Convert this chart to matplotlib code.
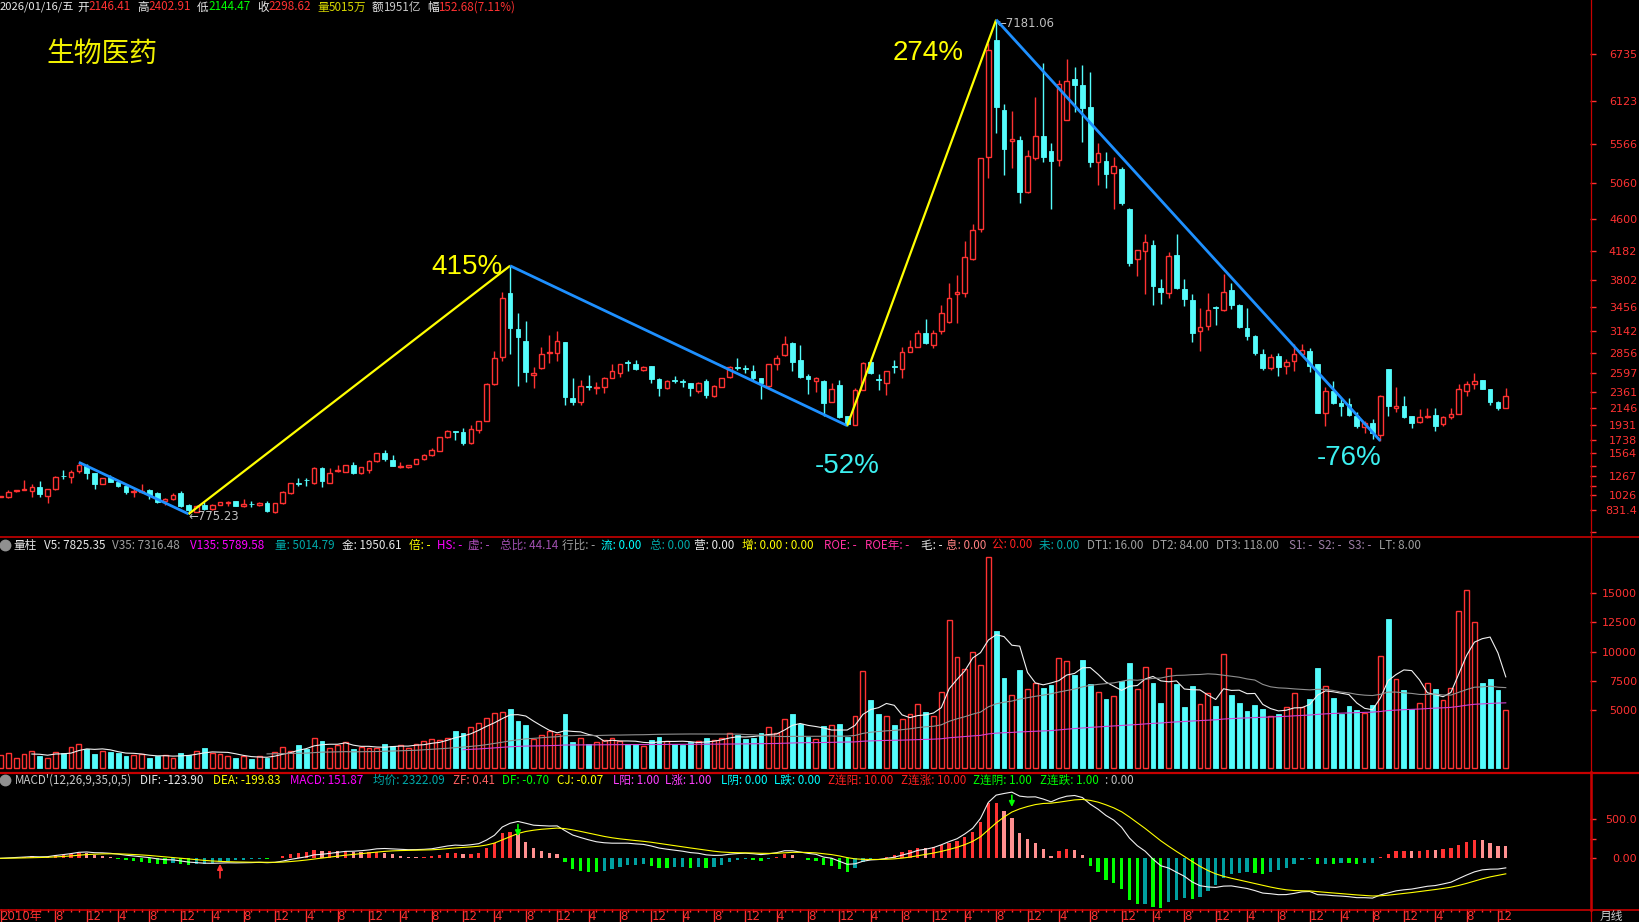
import matplotlib
matplotlib.use('Agg')
import matplotlib.pyplot as plt
import numpy as np
import pandas as pd
from matplotlib.lines import Line2D

plt.rcParams['font.family'] = ['Noto Sans CJK SC', 'DejaVu Sans']

# ---------------- data (monthly, 2010-01 .. 2026-01) ----------------
opens = [995, 999, 1070, 1085, 1068, 1120, 1008, 1094, 1272, 1258,
         1336, 1397, 1302, 1163, 1258, 1185, 1142, 1060, 1060, 1086,
         1051, 939, 965, 1043, 891, 805, 887, 835, 891, 913,
         939, 878, 906, 891, 922, 805, 913, 1051, 1176, 1215,
         1172, 1366, 1181, 1336, 1323, 1410, 1302, 1345, 1457, 1570,
         1474, 1388, 1388, 1423, 1483, 1540, 1595, 1777, 1850, 1833,
         1690, 1863, 1984, 2459, 2805, 3643, 3168, 3017, 2576, 2662,
         2856, 2865, 3000, 2282, 2230, 2438, 2403, 2425, 2542, 2606,
         2740, 2714, 2641, 2693, 2524, 2403, 2511, 2490, 2468, 2373,
         2498, 2304, 2425, 2546, 2680, 2662, 2628, 2542, 2434, 2723,
         2835, 2986, 2770, 2563, 2503, 2498, 2230, 2446, 2045, 1928,
         2382, 2740, 2515, 2477, 2690, 2650, 2878, 2943, 3125, 2965,
         3151, 3260, 3621, 3643, 4075, 4468, 5406, 6918, 6010, 5614,
         5622, 4946, 5390, 5674, 5476, 5364, 5881, 6411, 6338, 6053,
         5334, 5355, 5191, 5247, 4730, 4079, 4183, 4256, 3704, 3640,
         4127, 3687, 3545, 3144, 3209, 3455, 3424, 3674, 3480, 3179,
         3079, 2855, 2670, 2825, 2692, 2761, 2855, 2890, 2713, 2080,
         2368, 2217, 2196, 2049, 1898, 1959, 1799, 2648, 2153, 2174,
         2045, 1963, 2030, 2058, 1937, 2028, 2067, 2373, 2454, 2510,
         2394, 2230, 2146.41]
highs = [1008, 1086, 1090, 1215, 1159, 1202, 1100, 1267, 1345, 1345,
         1445, 1423, 1310, 1245, 1280, 1215, 1159, 1107, 1163, 1103,
         1060, 978, 1043, 1073, 904, 891, 935, 904, 930, 939,
         948, 965, 948, 935, 948, 913, 1068, 1180, 1245, 1241,
         1379, 1379, 1366, 1410, 1410, 1449, 1390, 1474, 1570, 1604,
         1535, 1453, 1414, 1487, 1552, 1630, 1777, 1863, 1852, 1885,
         1928, 1984, 2468, 2887, 3656, 3992, 3384, 3276, 2684, 2943,
         3094, 3146, 3005, 2533, 2511, 2576, 2490, 2555, 2714, 2714,
         2770, 2770, 2693, 2693, 2542, 2511, 2563, 2520, 2477, 2490,
         2520, 2447, 2542, 2693, 2792, 2706, 2706, 2542, 2714, 2835,
         3081, 3008, 2965, 2585, 2554, 2511, 2468, 2511, 2050, 2403,
         2749, 2757, 2585, 2628, 2770, 2943, 3030, 3159, 3297, 3159,
         3483, 3772, 3872, 4313, 4529, 5393, 6874, 7181.06, 6088, 6002,
         5674, 5497, 6183, 6618, 5584, 6398, 6670, 6562, 6596, 6506,
         5584, 5471, 5398, 5269, 4735, 4195, 4407, 4321, 3825, 4170,
         4398, 3816, 3622, 3446, 3640, 3467, 3890, 3773, 3493, 3450,
         3092, 2907, 2855, 2864, 2778, 2972, 2972, 2920, 2720, 2416,
         2498, 2273, 2273, 2101, 1980, 2002, 2317, 2650, 2416, 2304,
         2045, 2135, 2153, 2144, 2045, 2144, 2459, 2498, 2605, 2515,
         2398, 2239, 2402.91]
lows = [990, 978, 1066, 1080, 999, 999, 921, 1085, 1224, 1172,
        1302, 1232, 1103, 1160, 1190, 1129, 1034, 999, 1050, 965,
        913, 892, 956, 861, 775.23, 800, 830, 826, 887, 878,
        875, 870, 870, 878, 805, 790, 910, 1034, 1138, 1138,
        1170, 1129, 1180, 1319, 1320, 1293, 1293, 1310, 1449, 1466,
        1400, 1366, 1366, 1420, 1474, 1526, 1595, 1755, 1738, 1673,
        1686, 1829, 1980, 2447, 2762, 2848, 2440, 2490, 2403, 2650,
        2736, 2762, 2187, 2187, 2187, 2382, 2326, 2347, 2533, 2555,
        2632, 2641, 2632, 2477, 2308, 2395, 2468, 2425, 2308, 2339,
        2274, 2295, 2416, 2533, 2641, 2598, 2511, 2261, 2425, 2641,
        2822, 2632, 2542, 2330, 2360, 2045, 2230, 2014, 1920, 1925,
        2380, 2585, 2382, 2317, 2598, 2533, 2870, 2943, 2978, 2921,
        3107, 3254, 3254, 3591, 4066, 4425, 5125, 5708, 5174, 5256,
        4803, 4940, 5364, 5334, 4722, 5290, 5875, 5989, 5592, 5269,
        5040, 4997, 4730, 4773, 3993, 3860, 3631, 3480, 3502, 3579,
        3696, 3472, 3006, 2890, 3166, 3222, 3407, 3437, 3179, 3028,
        2834, 2640, 2640, 2567, 2584, 2631, 2850, 2610, 2080, 1920,
        2196, 2049, 2045, 1886, 1830, 1743, 1723, 2049, 2101, 2015,
        1894, 1960, 2025, 1855, 1920, 2002, 2065, 2304, 2394, 2390,
        2187, 2123, 2144.47]
closes = [1002, 1064, 1085, 1102, 1120, 1034, 1094, 1258, 1262, 1319,
          1405, 1310, 1163, 1241, 1194, 1138, 1064, 1077, 1070, 1021,
          935, 965, 1021, 878, 826, 878, 835, 887, 926, 935,
          878, 904, 900, 922, 818, 913, 1060, 1172, 1168, 1210,
          1366, 1207, 1310, 1340, 1405, 1310, 1388, 1457, 1561, 1483,
          1401, 1392, 1414, 1483, 1535, 1604, 1768, 1850, 1838, 1690,
          1872, 1984, 2459, 2792, 3570, 3190, 3073, 2619, 2598, 2848,
          2878, 3017, 2295, 2230, 2438, 2425, 2425, 2542, 2628, 2714,
          2730, 2654, 2684, 2520, 2412, 2503, 2503, 2485, 2403, 2477,
          2317, 2434, 2533, 2684, 2670, 2650, 2533, 2468, 2714, 2800,
          2978, 2749, 2554, 2520, 2542, 2217, 2395, 2036, 1941, 2382,
          2727, 2606, 2511, 2628, 2680, 2878, 2943, 3125, 2986, 3125,
          3384, 3570, 3656, 4110, 4455, 5384, 6788, 6045, 5506, 5635,
          4946, 5420, 5674, 5407, 5347, 6346, 6390, 6333, 6032, 5334,
          5454, 5183, 5290, 4803, 4028, 4191, 4295, 3726, 3653, 4114,
          3704, 3566, 3122, 3192, 3416, 3445, 3653, 3480, 3200, 3088,
          2864, 2670, 2812, 2683, 2748, 2855, 2898, 2692, 2088, 2368,
          2217, 2174, 2058, 1916, 1959, 1821, 2308, 2179, 2174, 2036,
          1959, 2028, 2038, 1916, 2036, 2071, 2390, 2459, 2498, 2394,
          2230, 2145.94, 2298.62]
volumes = [1100, 1300, 900, 1200, 1500, 1000, 900, 1400, 1300, 1800,
           2100, 1600, 1200, 1500, 1400, 1300, 1000, 1100, 1200, 900,
           1000, 1100, 900, 1300, 1100, 1500, 1700, 1300, 1200, 1000,
           900, 1000, 800, 1000, 900, 1400, 1800, 1500, 2000, 1600,
           2600, 2300, 1700, 2000, 2200, 1600, 1800, 1700, 1700, 2100,
           1900, 2000, 1700, 2100, 2300, 2500, 2400, 2600, 3200, 3000,
           3500, 3900, 4300, 4700, 4800, 5100, 4000, 3700, 2500, 2800,
           3200, 2900, 4600, 2200, 2600, 2100, 2200, 2400, 2600, 2300,
           2100, 2100, 1900, 2400, 2700, 2300, 2100, 2000, 2200, 2300,
           2600, 2400, 2600, 3000, 2800, 2500, 2600, 3000, 3500, 3000,
           4200, 4600, 3800, 2700, 2500, 3600, 3700, 3800, 2700, 4500,
           8300, 5800, 4600, 4500, 3700, 4200, 4600, 5500, 4800, 4500,
           6500, 12700, 9500, 8500, 10000, 8800, 18100, 11800, 7700, 6300,
           8400, 6800, 7300, 6900, 7100, 9400, 9200, 8000, 9300, 7200,
           6500, 5900, 6200, 7500, 9000, 6800, 8700, 7300, 5600, 8600,
           7200, 5200, 7000, 5500, 6400, 5300, 9800, 6300, 5600, 4900,
           5400, 5100, 4500, 4600, 5200, 6400, 5200, 5900, 8600, 7000,
           6000, 4600, 5300, 5000, 4700, 5400, 9600, 12800, 7600, 6700,
           5100, 5600, 7300, 6800, 5800, 6900, 13500, 15300, 12500, 7300,
           7600, 6700, 5015]

price_ticks = [6735, 6123, 5566, 5060, 4600, 4182, 3802, 3456, 3142, 2856,
               2597, 2361, 2146, 1931, 1738, 1564, 1267, 1026, 831.4]
price_minor = [1402, 1135, 536]
vol_ticks = [5000, 7500, 10000, 12500, 15000]
macd_ticks = [0, 500]
pivot_idx = [10, 24, 65, 108, 127, 176]
pivot_kind = ['H', 'L', 'H', 'L', 'H', 'L']
signal_up = [28]
signal_down = [66, 129]
title = '生物医药'

# ---------------- styling ----------------
W, H = 1639, 922
RED = '#FF3232'
CYAN = '#54FCFC'
GREEN = '#00FF00'
YEL = '#FFFF00'
WHITE = '#E8E8E8'
GRAY = '#A0A0A0'
MAG = '#FF00FF'
TEAL = '#00A8A8'
SEP = '#C80000'
STEP = 7.84  # px per month
TICKFONT = ['DejaVu Sans', 'Noto Sans CJK SC']

O = np.array(opens, float); Hh = np.array(highs, float)
L = np.array(lows, float); C = np.array(closes, float)
V = np.array(volumes, float)
n = len(C)
x = np.arange(n)
up = C >= O

fig = plt.figure(figsize=(W / 100, H / 100), dpi=100, facecolor='black')


def rect(x0, y0, x1, y1):
    return [x0 / W, 1 - y1 / H, (x1 - x0) / W, (y1 - y0) / H]


xlim = (-0.5 / STEP, (1590 - 0.5) / STEP)
ax_p = fig.add_axes(rect(0, 0, 1590, 536))
ax_v = fig.add_axes(rect(0, 537, 1590, 772))
ax_m = fig.add_axes(rect(0, 773, 1590, 909))
for ax in (ax_p, ax_v, ax_m):
    ax.set_facecolor('black')
    for s in ax.spines.values():
        s.set_visible(False)
    ax.set_xlim(*xlim)
    ax.yaxis.tick_right()
    ax.tick_params(axis='y', which='both', direction='out', colors=RED,
                   length=4, width=1, labelsize=8, pad=30,
                   labelfontfamily=TICKFONT)
    ax.tick_params(axis='x', which='both', bottom=False, labelbottom=False)

# ---------------- price panel ----------------
ax_p.set_ylim(490, 7436)
body_lo = np.minimum(O, C)
body_hi = np.maximum(O, C)
bh = np.maximum(body_hi - body_lo, 9)
dn = ~up
ax_p.vlines(x[dn], L[dn], Hh[dn], color=CYAN, lw=1)
ax_p.bar(x[dn], bh[dn], bottom=body_lo[dn], width=0.6, color=CYAN,
         edgecolor=CYAN, lw=0.6)
ax_p.vlines(x[up], body_hi[up], Hh[up], color=RED, lw=1)
ax_p.vlines(x[up], L[up], body_lo[up], color=RED, lw=1)
ax_p.bar(x[up], bh[up], bottom=body_lo[up], width=0.6, facecolor='black',
         edgecolor=RED, lw=1)
ax_p.set_yticks(price_ticks)
ax_p.set_yticklabels([('%g' % t) if t < 1000 else '%d' % t for t in price_ticks])
ax_p.set_yticks(price_minor, minor=True)
for lab in ax_p.get_yticklabels():
    lab.set_ha('right')

# trend lines and percentages
pv = [Hh[i] if k == 'H' else L[i] for i, k in zip(pivot_idx, pivot_kind)]
for j in range(len(pivot_idx) - 1):
    rising = pv[j + 1] > pv[j]
    ax_p.plot([pivot_idx[j], pivot_idx[j + 1]], [pv[j], pv[j + 1]],
              color=YEL if rising else '#1E90FF', lw=1.6 if rising else 2.0,
              solid_capstyle='butt', zorder=5)
pct_offsets = {2: (-43, -1), 3: (0, -40), 4: (-68, -33), 5: (-31, -17)}
for j, (dx, dy) in pct_offsets.items():
    pct = (pv[j] / pv[j - 1] - 1) * 100
    ax_p.annotate('%.0f%%' % pct, (pivot_idx[j], pv[j]), xytext=(dx, dy),
                  textcoords='offset pixels', ha='center', va='center',
                  color=YEL if pct > 0 else '#3CF0F0', fontsize=20,
                  family='Liberation Sans', zorder=6)
ax_p.annotate('←%.2f' % L[pivot_idx[1]], (pivot_idx[1], L[pivot_idx[1]]),
              xytext=(0, -3), textcoords='offset pixels', ha='left',
              va='center', color='#C0C0C0', fontsize=8.4, family='DejaVu Sans')
ax_p.annotate('←%.2f' % Hh[pivot_idx[4]], (pivot_idx[4], Hh[pivot_idx[4]]),
              xytext=(0, -4), textcoords='offset pixels', ha='left',
              va='center', color='#C0C0C0', fontsize=8.4, family='DejaVu Sans')
fig.text(46 / W, 1 - 54 / H, title, color='#F0F000', fontsize=20,
         va='center', ha='left')

# ---------------- volume panel ----------------
ax_v.set_ylim(-343, 19828)
vu = up
ax_v.bar(x[~vu], V[~vu], width=0.62, color=CYAN, edgecolor=CYAN, lw=0.6)
ax_v.bar(x[vu], V[vu], width=0.62, facecolor='black', edgecolor=RED, lw=1)
vs = pd.Series(V)
ax_v.plot(x, vs.rolling(5).mean(), color='#F0F0F0', lw=0.8)
ax_v.plot(x, vs.rolling(35).mean(), color='#909090', lw=0.8)
ax_v.plot(x, vs.rolling(135, min_periods=60).mean(), color='#D040D0', lw=0.8)
ax_v.set_yticks(vol_ticks)
ax_v.set_yticklabels(['%d' % t for t in vol_ticks])
for lab in ax_v.get_yticklabels():
    lab.set_ha('right')

# ---------------- MACD panel ----------------
cs = pd.Series(C)
dif = cs.ewm(span=12, adjust=False).mean() - cs.ewm(span=26, adjust=False).mean()
dea = dif.ewm(span=9, adjust=False).mean()
macd = 2 * (dif - dea)
mv = macd.values
prev = np.r_[0, mv[:-1]]
cols = []
for m, p in zip(mv, prev):
    if m >= 0:
        cols.append(RED if m >= p else '#FF9090')
    else:
        cols.append(GREEN if m <= p else '#00A0A0')
ax_m.set_ylim(-650, 1094)
ax_m.bar(x, mv, width=0.42, color=cols, lw=0)
ax_m.plot(x, dif, color='#F0F0F0', lw=0.8)
ax_m.plot(x, dea, color=YEL, lw=0.8)
for i in signal_up:
    ax_m.annotate('', (i, dif[i] - 10), xytext=(i, dif[i] - 190),
                  arrowprops=dict(arrowstyle='-|>', color=RED, lw=1.2,
                                  mutation_scale=8, shrinkA=0, shrinkB=0))
for i in signal_down:
    ax_m.annotate('', (i, dif[i] - 190), xytext=(i, dif[i] - 40),
                  arrowprops=dict(arrowstyle='-|>', color=GREEN, lw=1.2,
                                  mutation_scale=8, shrinkA=0, shrinkB=0))
ax_m.set_yticks(macd_ticks)
ax_m.set_yticklabels(['0.00', '500.0'])
ax_m.set_yticks([250], minor=True)
for lab in ax_m.get_yticklabels():
    lab.set_ha('right')

# x axis (months)
lab_idx = [0] + [i for i in range(1, n) if (i % 12) + 1 in (4, 8, 12) and i > 3]
lab_txt = ['2010年'] + [str((i % 12) + 1) for i in lab_idx[1:]]
ax_m.set_xticks(lab_idx)
ax_m.set_xticklabels(lab_txt)
ax_m.set_xticks(np.arange(n), minor=True)
ax_m.tick_params(axis='x', which='major', bottom=True, labelbottom=True,
                 direction='out', length=9.5, width=1, color=RED,
                 labelcolor=RED, labelsize=8.5, pad=-9.0,
                 labelfontfamily=TICKFONT)
ax_m.tick_params(axis='x', which='minor', bottom=True, direction='out',
                 length=2.2, width=1, color=RED)
for lab in ax_m.get_xticklabels():
    lab.set_ha('left')

# ---------------- separators ----------------
def hline(y, x0, x1, lw):
    fig.add_artist(Line2D([x0 / W, x1 / W], [1 - y / H, 1 - y / H],
                          color=SEP, lw=lw, transform=fig.transFigure))


def vline(xp, y0, y1, lw):
    fig.add_artist(Line2D([xp / W, xp / W], [1 - y0 / H, 1 - y1 / H],
                          color=SEP, lw=lw, transform=fig.transFigure))


hline(536.5, 0, W, 1.2)
hline(772.5, 0, W, 1.6)
hline(909.5, 0, W, 1.2)
vline(1590.5, 0, H, 0.9)
vline(1590.5, 772, 910, 1.8)
fig.text(1600 / W, 1 - 916 / H, '月线', color='#D0D0D0', fontsize=8.5, va='center')

# ---------------- header texts ----------------
FS = 8.4


def seg(xp, yp, txt, col, fs=FS):
    fig.text(xp / W, 1 - yp / H, txt, color=col, fontsize=fs, va='center',
             ha='left')


hy = 7
seg(0, hy, '2026/01/16/五', WHITE, 8.1)
for xp, lab, lc, val, vc in [
        (77, '开', WHITE, '%.2f' % O[-1], RED),
        (137, '高', WHITE, '%.2f' % Hh[-1], RED),
        (197, '低', WHITE, '%.2f' % L[-1], GREEN),
        (257, '收', WHITE, '%.2f' % C[-1], RED),
        (317, '量', '#D8D800', '%.0f万' % V[-1], '#D8D800'),
        (372, '额', WHITE, '1951亿', '#C8C8C8'),
        (427, '幅', WHITE, '%.2f(%.2f%%)' % (C[-1] - C[-2], (C[-1] / C[-2] - 1) * 100), RED)]:
    seg(xp, hy, lab, lc)
    seg(xp + 11.5, hy, val, vc)

vy = 545
fig.add_artist(Line2D([5 / W], [1 - vy / H], marker='o', ms=7.5, color='#909090',
                      transform=fig.transFigure))
for xp, txt, col in [
        (13, '量柱', WHITE), (43.6, 'V5: 7825.35', WHITE),
        (112.5, 'V35: 7316.48', GRAY), (189.6, 'V135: 5789.58', MAG),
        (274.6, '量: 5014.79', TEAL), (342, '金: 1950.61', WHITE),
        (408.6, '倍: -', YEL), (437, 'HS: -', MAG), (468, '虚: -', '#B050C0'),
        (500, '总比: 44.14', '#A050B0'), (562, '行比: -', GRAY),
        (601, '流: 0.00', '#00FFFF'), (650, '总: 0.00', TEAL),
        (694, '营: 0.00', WHITE), (742, '增: 0.00 : 0.00', YEL),
        (824, 'ROE: -', '#FF30A0'), (865, 'ROE年: -', '#FF30A0'),
        (921, '毛: -', WHITE), (945.6, '息: 0.00', '#FF8080'),
        (992.5, '公: 0.00', '#FF2020'), (1039, '未: 0.00', TEAL),
        (1086.6, 'DT1: 16.00', GRAY), (1152, 'DT2: 84.00', GRAY),
        (1216.5, 'DT3: 118.00', GRAY), (1289, 'S1: -', '#A080A8'),
        (1317.5, 'S2: -', '#A080A8'), (1348, 'S3: -', '#A080A8'),
        (1378.6, 'LT: 8.00', GRAY)]:
    seg(xp, vy, txt, col)

my = 780
fig.add_artist(Line2D([5 / W], [1 - my / H], marker='o', ms=7.5, color='#909090',
                      transform=fig.transFigure))
for xp, txt, col in [
        (14.7, "MACD'(12,26,9,35,0,5)", '#C8C8C8'), (140, 'DIF: -123.90', WHITE),
        (213.5, 'DEA: -199.83', YEL), (290, 'MACD: 151.87', MAG),
        (372.8, '均价: 2322.09', TEAL), (453, 'ZF: 0.41', '#FF6060'),
        (502, 'DF: -0.70', GREEN), (557, 'CJ: -0.07', YEL),
        (613, 'L阳: 1.00', '#FF40FF'), (665, 'L涨: 1.00', '#FF40FF'),
        (721, 'L阴: 0.00', '#00FFFF'), (773.5, 'L跌: 0.00', '#00FFFF'),
        (828, 'Z连阳: 10.00', '#FF2020'), (900.7, 'Z连涨: 10.00', '#FF2020'),
        (973, 'Z连阴: 1.00', GREEN), (1040, 'Z连跌: 1.00', GREEN),
        (1105, ': 0.00', '#C0C0C0')]:
    seg(xp, my, txt, col)

fig.savefig('out.png', dpi=100, facecolor='black')
